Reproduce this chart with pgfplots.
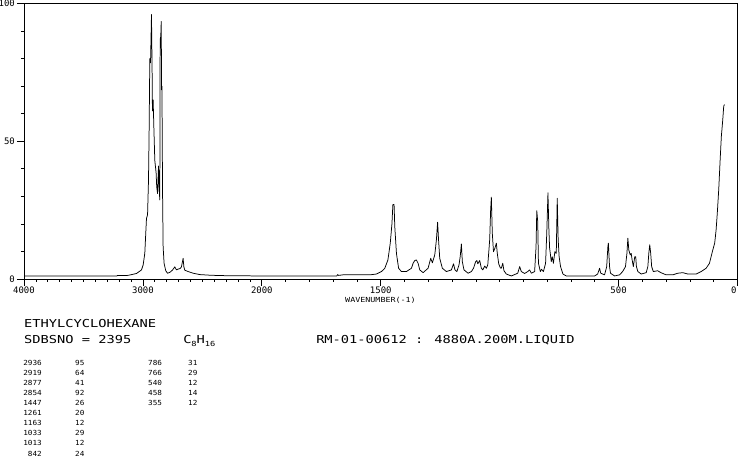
\documentclass[border=0pt]{standalone}
\usepackage{fontspec}
\setmainfont{DejaVu Sans Mono}
\usepackage{pgfplots}
\pgfplotsset{compat=1.18}

\begin{document}
\begin{tikzpicture}[x=1bp,y=1bp]
\useasboundingbox (0,0) rectangle (738,457);
\begin{axis}[
  at={(24bp,178bp)}, anchor=south west,
  scale only axis, width=713.5bp, height=275.5bp,
  % wavenumber axis: 4000-2000 at half the scale of 2000-0
  x coord trafo/.code={\pgfmathparse{(#1>=2000)*(4000-#1)+(#1<2000)*(6000-2*#1)}},
  x coord inv trafo/.code={\pgfmathparse{(#1<=2000)*(4000-#1)+(#1>2000)*(3000-#1/2)}},
  xmin=4000, xmax=0, ymin=0, ymax=100,
  xtick={4000,3000,2000,1500,500,0},
  xticklabels={4000,3000,2000,1500,500,\makebox[0pt][r]{0\hspace{1bp}}},
  minor xtick={100,200,...,3900},
  ytick={0,50,100},
  minor ytick={10,20,...,90},
  tick align=outside,
  xtick pos=bottom, ytick pos=left,
  major tick length=7bp, minor tick length=3bp,
  tick style={black, line width=0.7pt},
  axis line style={line width=0.8pt},
  ticklabel style={font=\fontsize{9}{10}\selectfont, inner sep=0pt},
  xticklabel style={yshift=-1bp},
  yticklabel style={xshift=-2bp},
  /pgf/number format/assume math mode=true,
]
\addplot[black, line width=0.75pt, line join=round] coordinates {
(4000,1.1) (3220,1.1) (3212,1.3) (3130,1.3) (3110,1.45) (3054,2.0)
(3012,3.3) (2998,5.1) (2984,9.4) (2976,16.7) (2970,22) (2961,23.3)
(2953,36) (2948,53) (2942,80) (2936,78.5) (2928,96) (2923,77)
(2920,61) (2914,65) (2908,55) (2900,43) (2889,38.5) (2884,33.5)
(2877,31) (2869,41) (2864,33.5) (2858,28.7) (2855,87) (2850,88)
(2846,93.5) (2843,68.7) (2840,70) (2835,32) (2830,11.6) (2822,5.7)
(2808,3) (2793,2.1) (2774,2.4) (2752,3.2) (2732,4.4) (2718,3.3)
(2704,3.6) (2687,3.8) (2676,4.4) (2662,7.5) (2656,4.5) (2648,3.2)
(2620,2.7) (2578,2.1) (2522,1.6) (2446,1.4) (2390,1.3) (2300,1.2)
(2000,1.1) (1700,1.1) (1685,1.1) (1681,1.6) (1677,1.3) (1660,1.5)
(1600,1.5) (1546,1.5) (1518,1.8) (1497,2.7) (1483,3.9) (1470,6.9)
(1460,13) (1453,20) (1449,27) (1444,27) (1441,19) (1434,9.3)
(1425,3.9) (1413,2.7) (1392,2.7) (1371,3.9) (1364,5.7) (1357,6.7)
(1350,6.9) (1343,5.7) (1336,3.3) (1322,2.3) (1301,3.9) (1290,7.5)
(1283,5.9) (1273,8.7) (1266,14.2) (1261,20.6) (1257,14.2) (1252,7.5)
(1241,3.9) (1224,2.7) (1203,3.3) (1194,5.5) (1188,3.3) (1180,2.7)
(1171,5.1) (1166,8.1) (1161,12.7) (1157,6.3) (1150,3.3) (1133,2.1)
(1119,2.7) (1110,3.9) (1101,6.3) (1096,6.7) (1092,5.5) (1084,6.7)
(1077,3.9) (1071,3.3) (1063,4.7) (1056,3.9) (1050,5.1) (1042,14.2)
(1038,25) (1035,29.7) (1031,16.6) (1026,9.9) (1020,11.2) (1014,13)
(1010,9.3) (1004,5.5) (997,4) (993,3.9) (987,5.7) (982,3)
(972,1.8) (951,1.1) (924,2.1) (916,4.5) (909,2.7) (895,2.0)
(882,2.7) (874,3.3) (867,2.1) (853,2.7) (847,11.8) (844,24.8)
(840,20.8) (837,5.7) (829,2.7) (824,3.5) (816,2.7) (807,5.7)
(802,16.6) (797,31.3) (793,17.8) (790,11.2) (783,6.3) (779,8.1)
(774,5.7) (768,9.9) (762,9.3) (758,29.3) (754,14.2) (750,8.1)
(744,4.5) (734,1.8) (720,1.1) (664,1.1) (601,1.1) (588,1.8)
(580,3.9) (575,2.1) (559,1.5) (550,4.5) (545,11.8) (543,13)
(538,4.5) (534,2.1) (517,1.1) (496,1.5) (483,2.7) (471,4.5)
(465,9.3) (461,14.8) (457,10.5) (451,8.7) (447,9.3) (443,6.9)
(438,4.5) (432,8.1) (428,8.1) (425,4.5) (419,2.7) (405,1.8)
(384,2.3) (377,4.5) (373,9.3) (369,12.4) (365,9.3) (361,4.5)
(354,2.7) (336,3) (322,2.3) (300,1.5) (272,1.5) (251,2.1)
(230,2.3) (209,1.8) (174,1.8) (153,2.7) (132,3.9) (118,5.7)
(104,10.5) (96,13) (90,17.8) (85,23.9) (79,32.4) (73,43.3)
(68,51.7) (62,57.8) (58,62.7) (55,63.3)
};
\end{axis}

% axis title and header lines
\node[anchor=base west, inner sep=0, xscale=1.2, font=\fontsize{7}{8}\selectfont] at (345,154.5) {WAVENUMBER(-1)};
\begin{scope}[every node/.style={anchor=base west, inner sep=0, xscale=1.25, font=\fontsize{11}{12}\selectfont}]
\node at (24,129) {ETHYLCYCLOHEXANE};
\node at (24,113) {SDBSNO = 2395};
\node at (183,113) {C\raisebox{-3bp}{\fontsize{7}{8}\selectfont 8}H\raisebox{-3bp}{\fontsize{7}{8}\selectfont 16}};
\node at (316,113) {RM-01-00612 : 4880A.200M.LIQUID};
\end{scope}

% peak table
\begin{scope}[every node/.style={inner sep=0, xscale=1.1, font=\fontsize{7}{8}\selectfont}]
\foreach \a/\b [count=\i] in {2936/95,2919/64,2877/41,2854/92,1447/26,1261/20,1163/12,1033/29,1013/12,842/24} {
  \node[anchor=base east] at (42, 91.8-\i*10.1+10.1) {\a};
  \node[anchor=base west] at (75, 91.8-\i*10.1+10.1) {\b};
}
\foreach \a/\b [count=\i] in {786/31,766/29,540/12,458/14,355/12} {
  \node[anchor=base west] at (148, 91.8-\i*10.1+10.1) {\a};
  \node[anchor=base west] at (188, 91.8-\i*10.1+10.1) {\b};
}
\end{scope}
\end{tikzpicture}
\end{document}
